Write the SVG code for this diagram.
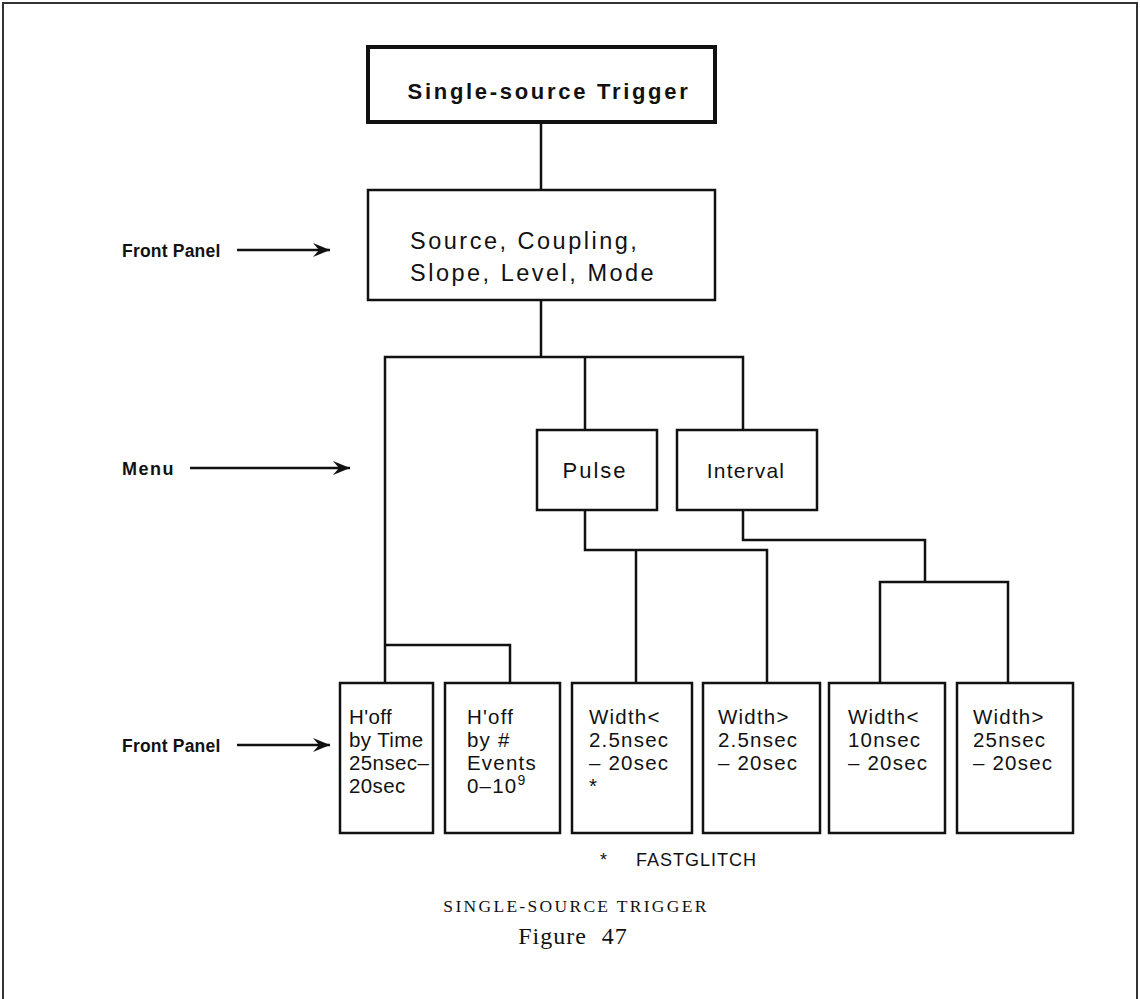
<svg xmlns="http://www.w3.org/2000/svg" width="1140" height="999" viewBox="0 0 1140 999">
<style>
.box{fill:#fff;stroke:#111;stroke-width:2.5}
.thick{fill:#fff;stroke:#111;stroke-width:4}
.ln{fill:none;stroke:#111;stroke-width:2.5}
.t{font-family:"Liberation Sans",Arial,sans-serif;font-size:20.5px;fill:#111;letter-spacing:1.2px}
.b{font-family:"Liberation Sans",Arial,sans-serif;font-size:17.5px;font-weight:bold;fill:#111;letter-spacing:0.2px}
.big{font-size:23.5px;letter-spacing:2.5px}
.tight{letter-spacing:0.4px}
.s{font-family:"Liberation Serif","Times New Roman",serif;fill:#111}
</style>
<defs>
<marker id="ah" markerWidth="18" markerHeight="14" refX="17" refY="7" orient="auto" markerUnits="userSpaceOnUse">
<path d="M0,0 L17,7 L0,14 L6,7 Z" fill="#111"/>
</marker>
</defs>
<rect width="1140" height="999" fill="#fff"/>
<path d="M3,999 V3 H1137 V999" fill="none" stroke="#333" stroke-width="2"/>

<g id="connectors">
<line class="ln" x1="541" y1="122" x2="541" y2="190"/>
<line class="ln" x1="541" y1="300" x2="541" y2="357"/>
<path class="ln" d="M385,683 V357 H743 V430"/>
<line class="ln" x1="585" y1="357" x2="585" y2="430"/>
<path class="ln" d="M585,510 V550 H767 V683"/>
<line class="ln" x1="636" y1="550" x2="636" y2="683"/>
<path class="ln" d="M743,510 V540 H925 V582"/>
<path class="ln" d="M880,683 V582 H1008 V683"/>
<path class="ln" d="M385,645 H510 V683"/>
<line class="ln" x1="237" y1="250" x2="330" y2="250" marker-end="url(#ah)"/>
<line class="ln" x1="190" y1="468" x2="350" y2="468" marker-end="url(#ah)"/>
<line class="ln" x1="237" y1="745" x2="330" y2="745" marker-end="url(#ah)"/>
</g>

<g id="top">
<rect class="thick" x="368" y="47" width="347" height="75"/>
<text class="b" x="549" y="99" text-anchor="middle" style="font-size:22px;letter-spacing:2.7px">Single-source Trigger</text>
</g>
<g id="frontpanel">
<rect class="box" x="368" y="190" width="347" height="110"/>
<text class="t big" x="410" y="249">Source, Coupling,</text>
<text class="t big" x="410" y="281">Slope, Level, Mode</text>
</g>
<g id="pulse">
<rect class="box" x="537" y="430" width="120" height="80"/>
<text class="t" x="595" y="478" text-anchor="middle" style="font-size:22px;letter-spacing:2px">Pulse</text>
</g>
<g id="interval">
<rect class="box" x="677" y="430" width="140" height="80"/>
<text class="t" x="746" y="478" text-anchor="middle" style="font-size:21px">Interval</text>
</g>

<g id="hoff-time">
<rect class="box" x="340" y="683" width="93" height="150"/>
<text class="t tight" x="349" y="724">H'off</text>
<text class="t tight" x="349" y="747">by Time</text>
<text class="t tight" x="349" y="770">25nsec–</text>
<text class="t tight" x="349" y="793">20sec</text>
</g>
<g id="hoff-events">
<rect class="box" x="445" y="683" width="115" height="150"/>
<text class="t" x="467" y="724">H'off</text>
<text class="t" x="467" y="747">by #</text>
<text class="t" x="467" y="770">Events</text>
<text class="t" x="467" y="793">0–10<tspan style="font-size:14px" dy="-8">9</tspan></text>
</g>
<g id="width-lt-25">
<rect class="box" x="572" y="683" width="120" height="150"/>
<text class="t" x="589" y="724">Width&lt;</text>
<text class="t" x="589" y="747">2.5nsec</text>
<text class="t" x="589" y="770">– 20sec</text>
<text class="t" x="589" y="793">*</text>
</g>
<g id="width-gt-25">
<rect class="box" x="703" y="683" width="117" height="150"/>
<text class="t" x="718" y="724">Width&gt;</text>
<text class="t" x="718" y="747">2.5nsec</text>
<text class="t" x="718" y="770">– 20sec</text>
</g>
<g id="width-lt-10">
<rect class="box" x="829" y="683" width="116" height="150"/>
<text class="t" x="848" y="724">Width&lt;</text>
<text class="t" x="848" y="747">10nsec</text>
<text class="t" x="848" y="770">– 20sec</text>
</g>
<g id="width-gt-25n">
<rect class="box" x="957" y="683" width="116" height="150"/>
<text class="t" x="973" y="724">Width&gt;</text>
<text class="t" x="973" y="747">25nsec</text>
<text class="t" x="973" y="770">– 20sec</text>
</g>

<g id="labels">
<text class="b" x="122" y="257">Front Panel</text>
<text class="b" x="122" y="475" style="font-size:18px;letter-spacing:1.5px">Menu</text>
<text class="b" x="122" y="752">Front Panel</text>
<text class="t" x="600" y="866" style="font-size:18px;letter-spacing:1px">*</text>
<text class="t" x="636" y="866" style="font-size:18px;letter-spacing:1px">FASTGLITCH</text>
</g>

<g id="caption">
<text class="s" x="576" y="912" text-anchor="middle" font-size="17.5" letter-spacing="2.3">SINGLE-SOURCE TRIGGER</text>
<text class="s" x="573" y="944" text-anchor="middle" font-size="24" letter-spacing="1" word-spacing="8">Figure 47</text>
</g>
</svg>
